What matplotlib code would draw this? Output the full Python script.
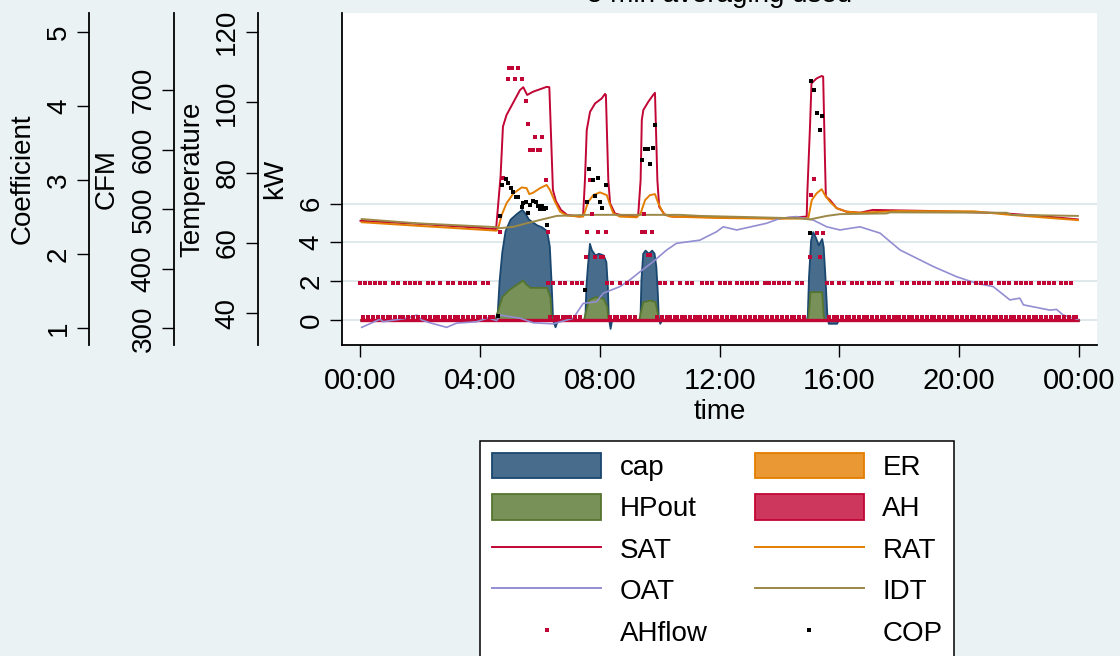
"""
Heat pump day plot: kW areas, temperatures, air handler flow and COP
on four stacked y axes (Stata s2color look).
"""

import matplotlib
matplotlib.use('Agg')
import matplotlib.pyplot as plt
from matplotlib.patches import Patch
from matplotlib.lines import Line2D

plt.rcParams['font.family'] = ['Liberation Sans', 'DejaVu Sans']

# ---- data (time in hours of the day) ----

# capacity, kW
cap_t = [0.0, 4.50, 4.57, 4.63, 4.72, 4.83, 5.00, 5.22, 5.39, 5.50, 5.61, 5.89, 6.05, 6.22,
         6.31, 6.37, 6.42, 6.50, 6.58, 7.45, 7.50, 7.53, 7.58, 7.65, 7.72, 7.84, 7.95, 8.11,
         8.20, 8.25, 8.28, 8.34, 8.39, 9.30, 9.34, 9.37, 9.43, 9.51, 9.62, 9.73, 9.81, 9.87,
         9.92, 9.95, 10.0, 10.06, 14.90, 14.93, 14.97, 15.04, 15.11, 15.19, 15.30, 15.41,
         15.46, 15.52, 15.58, 15.63, 15.91, 15.96, 24.0]
cap_v = [0.0, 0.0, 0.4, 2.0, 3.5, 4.6, 5.2, 5.5, 5.7, 5.5, 5.2, 4.9, 4.8, 4.6,
         3.8, 1.9, 0.0, -0.35, 0.0, 0.0, 0.17, 1.7, 2.75, 3.95, 3.6, 3.35, 3.44, 3.35,
         3.0, 1.7, 0.17, -0.43, 0.0, 0.0, 0.17, 2.06, 3.44, 3.6, 3.44, 3.6, 3.44, 2.75,
         1.37, 0.17, -0.17, 0.0, 0.0, 0.26, 2.23, 4.12, 4.55, 4.3, 3.87, 4.2,
         3.78, 2.23, 0.34, -0.17, -0.17, 0.0, 0.0]

# heat pump output, kW
hp_t = [0.0, 4.50, 4.55, 4.72, 4.94, 5.33, 5.42, 5.50, 5.66, 6.22, 6.33, 6.37, 6.42,
        7.45, 7.50, 7.61, 7.84, 8.11, 8.23, 8.26, 8.30, 9.30, 9.34, 9.43, 9.67, 9.84,
        9.92, 9.96, 14.92, 14.96, 15.02, 15.41, 15.46, 15.50, 24.0]
hp_v = [0.0, 0.0, 0.34, 1.2, 1.55, 1.97, 2.06, 1.89, 1.68, 1.68, 1.2, 0.17, 0.0,
        0.0, 0.34, 1.03, 1.2, 1.12, 0.69, 0.14, 0.0, 0.0, 0.34, 0.94, 1.03, 0.94,
        0.34, 0.0, 0.0, 0.26, 1.46, 1.46, 0.26, 0.0, 0.0]

# electric resistance and aux heat, kW (off all day)
er_t = [0.0, 24.0]
er_v = [0.0, 0.0]
ah_t = [0.0, 24.0]
ah_v = [0.0, 0.0]

# supply air temperature, F
sat_t = [0.0, 2.0, 4.0, 4.53, 4.68, 4.76, 4.88, 5.33, 5.44, 5.57, 5.76, 6.22, 6.31, 6.43,
         6.53, 6.70, 6.90, 7.33, 7.44, 7.50, 7.56, 7.67, 7.84, 8.06, 8.17, 8.20, 8.28,
         8.34, 8.50, 8.67, 9.23, 9.28, 9.36, 9.40, 9.45, 9.62, 9.78, 9.84, 9.92, 9.98,
         10.17, 10.45, 12.0, 14.0, 14.91, 14.93, 15.02, 15.07, 15.24, 15.41, 15.46, 15.52,
         15.55, 15.69, 15.91, 16.24, 16.69, 17.12, 19.03, 21.37, 22.70, 23.97]
sat_v = [66.3, 65.4, 64.3, 63.9, 78.9, 93.1, 96.4, 103.5, 104.3, 102.1, 103.0, 104.4, 104.3, 75.1,
         71.9, 69.4, 68.0, 67.5, 68.0, 77.9, 92.1, 97.3, 99.7, 101.1, 102.4, 102.1, 77.9,
         71.3, 68.4, 68.0, 67.5, 68.0, 77.9, 95.0, 97.8, 100.2, 102.1, 102.7, 77.9, 70.3,
         68.0, 67.5, 67.3, 67.0, 67.5, 74.1, 93.1, 105.4, 106.8, 107.5, 107.3, 83.6,
         73.2, 72.2, 69.9, 68.9, 68.6, 69.4, 69.1, 68.5, 67.7, 66.7]

# return air temperature, F
rat_t = [0.04, 1.88, 4.55, 4.60, 4.72, 4.88, 5.11, 5.39, 5.55, 5.64, 5.77, 6.0, 6.22, 6.33,
         6.50, 6.67, 6.89, 7.33, 7.44, 7.61, 7.78, 8.0, 8.23, 8.34, 8.45, 8.67, 9.23, 9.36,
         9.51, 9.67, 9.84, 9.95, 10.12, 10.34, 12.0, 14.0, 14.96, 15.08, 15.24, 15.41,
         15.52, 15.69, 15.91, 16.24, 16.69, 18.0, 20.5, 21.7, 23.97]
rat_v = [65.9, 64.9, 63.5, 64.2, 68.0, 71.3, 74.1, 75.8, 75.6, 73.9, 74.3, 75.6, 76.5, 75.1,
         71.7, 68.9, 67.8, 67.5, 67.5, 71.7, 73.6, 74.4, 73.6, 70.8, 68.4, 67.5, 67.3, 68.4,
         72.2, 73.6, 73.9, 71.3, 68.4, 67.5, 67.1, 66.9, 67.0, 72.2, 74.1, 75.3,
         73.6, 71.7, 69.9, 68.9, 68.6, 69.1, 69.0, 68.0, 66.5]

# outdoor air temperature, F
oat_t = [0.04, 0.65, 0.76, 1.54, 1.88, 2.04, 2.32, 2.88, 3.21, 3.88, 4.27, 4.55, 4.66, 5.33,
         5.77, 6.44, 7.11, 7.44, 7.89, 8.11, 8.67, 9.0, 9.34, 9.78, 10.23, 10.56, 11.34,
         11.57, 11.90, 12.12, 12.57, 13.57, 14.02, 14.57, 15.13, 15.58, 16.02, 16.69, 17.36,
         18.03, 19.14, 19.92, 20.59, 21.14, 21.70, 22.03, 22.15, 23.04, 23.26, 23.48, 23.97]
oat_v = [36.0, 38.3, 37.6, 38.6, 39.5, 38.1, 37.3, 36.0, 37.2, 37.6, 38.7, 37.9, 39.5, 38.6,
         37.3, 37.0, 38.6, 42.8, 43.3, 45.7, 47.6, 49.5, 51.8, 54.7, 58.0, 59.9, 60.8,
         61.8, 63.2, 64.6, 63.7, 65.6, 67.0, 67.5, 66.5, 64.6, 63.7, 64.6, 62.8,
         58.0, 53.3, 50.4, 48.5, 47.6, 43.8, 44.3, 42.4, 40.9, 41.1, 39.5, 38.3]

# indoor temperature, F
idt_t = [0.04, 1.88, 4.55, 4.66, 5.11, 5.55, 6.22, 6.56, 7.56, 8.89, 10.68, 11.34, 14.68,
         15.02, 15.58, 16.02, 17.58, 17.69, 21.59, 21.76, 23.97]
idt_v = [66.8, 65.6, 64.5, 64.2, 64.6, 65.6, 67.0, 67.7, 68.0, 68.0, 68.0, 67.7, 67.0,
         66.7, 67.7, 68.2, 68.4, 68.7, 68.6, 68.0, 67.7]

# air handler flow, CFM: one string per hour, one char per 5 min sample
# u = upper level, l = lower level, - = during heating (listed separately)
AHFLOW_UP = 375.6
AHFLOW_LOW = 319.0
ahflow_rows = [
    "ulululululul", "lulullululul", "ullulullullu", "lullulululul",
    "lulull------", "------------", "---ulullulul", "lululu------",
    "---ulullullu", "lulu-------l", "ulullullullu", "lulllululull",
    "ululullululu", "lulullululul", "ululullulul-", "-------ulull",
    "ulullululull", "ululullulull", "lulullululul", "ullululullul",
    "ululullululu", "lullululullu", "lululullulul", "ulullululull",
]
ahflow_heat_t = [4.67, 4.75, 4.92, 4.95, 5.05, 5.16, 5.27, 5.39, 5.53, 5.59, 5.66, 5.77,
                 5.83, 5.94, 6.00, 6.07, 6.19, 6.27,
                 7.52, 7.56, 7.67, 7.75, 7.84, 7.94, 8.04, 8.10, 8.20,
                 9.40, 9.47, 9.51, 9.60, 9.68, 9.73,
                 15.02, 15.07, 15.15, 15.24, 15.35, 15.44]
ahflow_heat_v = [461, 552, 719, 737, 737, 719, 737, 719, 682, 643, 600, 600,
                 622, 600, 600, 622, 550, 461,
                 420, 461, 550, 492, 420, 461, 420, 420, 461,
                 461, 492, 461, 423, 423, 461,
                 420, 524, 551, 460, 420, 460]

# coefficient of performance
cop_t = [4.60, 4.66, 4.74, 4.85, 4.94, 5.02, 5.11, 5.19, 5.27, 5.39, 5.44, 5.53, 5.61,
         5.66, 5.77, 5.85, 5.94, 6.00, 6.05, 6.13, 6.19, 6.24,
         7.50, 7.58, 7.64, 7.76, 7.84, 7.92, 8.00, 8.08, 8.19,
         9.42, 9.51, 9.60, 9.68, 9.76, 9.84,
         15.02, 15.07, 15.15, 15.26, 15.34, 15.43]
cop_v = [1.16, 2.52, 2.93, 3.01, 2.96, 2.90, 2.84, 2.77, 2.77, 2.64, 2.69, 2.70, 2.55,
         2.66, 2.72, 2.70, 2.65, 2.61, 2.65, 2.61, 2.63, 2.39,
         1.52, 2.71, 3.15, 3.00, 2.79, 3.03, 2.71, 2.62, 2.93,
         3.27, 3.42, 3.42, 3.22, 3.44, 3.74,
         2.29, 4.34, 4.21, 3.91, 3.67, 3.87]

time_ticks = [0, 4, 8, 12, 16, 20, 24]
time_labels = ['00:00', '04:00', '08:00', '12:00', '16:00', '20:00', '00:00']

# ---- colours (Stata s2color) ----
BG = '#eaf2f3'
GRID = '#dfe9ec'
NAVY, CAP_FILL = '#1a476f', '#486c8c'
GREEN, HP_FILL = '#55752f', '#779159'
ORANGE, ER_FILL = '#e37e00', '#e99833'
CRAN, AH_FILL = '#c10534', '#cd375d'
LAVENDER = '#938dd2'
BROWN = '#9c8847'

FS = 20
W, H = 1120, 656
L, R, T, B = 342, 1097, 13, 345   # plot region in pixels


def style_y(ax, ticks):
    ax.set_yticks(ticks, [str(t) for t in ticks], rotation=90, va='center')
    ax.tick_params(axis='y', direction='out', length=8.5, width=1.0, pad=4, labelsize=FS)


def add_side_axis(host, pos, ylim, ticks, label, label_x):
    """Extra y axis drawn further to the left of the plot"""
    a = host.twinx()
    a.set_ylim(ylim)
    a.patch.set_visible(False)
    for s in ('top', 'bottom', 'right'):
        a.spines[s].set_visible(False)
    a.spines['left'].set_visible(True)
    a.spines['left'].set_position(('axes', pos))
    a.spines['left'].set_linewidth(1.3)
    a.yaxis.set_ticks_position('left')
    a.yaxis.set_label_position('left')
    style_y(a, ticks)
    a.set_ylabel(label, fontsize=FS, va='center')
    a.yaxis.set_label_coords(label_x, 0.5)
    return a


fig = plt.figure(figsize=(W / 100, H / 100), dpi=100, facecolor=BG)
ax = fig.add_axes([L / W, 1 - B / H, (R - L) / W, (B - T) / H])
ax.set_facecolor('white')
width_px = R - L

# kW axis (host)
ax.set_xlim(-0.618, 24.61)
ax.set_ylim(-1.289, 15.82)
style_y(ax, [0, 2, 4, 6])
ax.grid(axis='y', color=GRID, linewidth=1.4)
ax.set_axisbelow(True)
ax.set_ylabel('kW', fontsize=FS, va='center')
ax.yaxis.set_label_coords((275 - L) / width_px, 0.5)
ax.set_xticks(time_ticks, time_labels)
ax.tick_params(axis='x', direction='out', length=8.5, width=1.0, pad=7.5, labelsize=21)
ax.set_xlabel('time', fontsize=FS, labelpad=3)
for s in ('top', 'right'):
    ax.spines[s].set_visible(False)
for s in ('left', 'bottom'):
    ax.spines[s].set_linewidth(1.3)

ax.fill_between(cap_t, cap_v, 0, facecolor=CAP_FILL, edgecolor=NAVY, linewidth=1.3)
ax.fill_between(er_t, er_v, 0, facecolor=ER_FILL, edgecolor=ORANGE, linewidth=1.3)
ax.fill_between(hp_t, hp_v, 0, facecolor=HP_FILL, edgecolor=GREEN, linewidth=1.3)
ax.fill_between(ah_t, ah_v, 0, facecolor=AH_FILL, edgecolor=CRAN, linewidth=2.4)

# temperature axis
ax_t = add_side_axis(ax, (257.7 - L) / width_px, (30.98, 125.41), [40, 60, 80, 100, 120],
                     'Temperature', (192.5 - L) / width_px)
ax_t.plot(sat_t, sat_v, color=CRAN, linewidth=1.4)
ax_t.plot(rat_t, rat_v, color=ORANGE, linewidth=1.4)
ax_t.plot(oat_t, oat_v, color=LAVENDER, linewidth=1.2)
ax_t.plot(idt_t, idt_v, color=BROWN, linewidth=1.4)

# CFM axis
ax_c = add_side_axis(ax, (174 - L) / width_px, (271.9, 829.9), [300, 400, 500, 600, 700],
                     'CFM', (106.7 - L) / width_px)
flow_t, flow_v = [], []
for h, row in enumerate(ahflow_rows):
    for i, c in enumerate(row):
        if c == 'u':
            flow_t.append(h + i / 12)
            flow_v.append(AHFLOW_UP)
        elif c == 'l':
            flow_t.append(h + i / 12)
            flow_v.append(AHFLOW_LOW)
flow_t += ahflow_heat_t
flow_v += ahflow_heat_v
ax_c.plot(flow_t, flow_v, linestyle='none', marker='s', markersize=3.3,
          markeredgewidth=0, color=CRAN)

# coefficient axis
ax_k = add_side_axis(ax, (89.3 - L) / width_px, (0.775, 5.255), [1, 2, 3, 4, 5],
                     'Coefficient', (22.5 - L) / width_px)
ax_k.plot(cop_t, cop_v, linestyle='none', marker='s', markersize=3.2,
          markeredgewidth=0, color='black')

fig.text((L + R) / 2 / W, 1 - 2.5 / H, '5 min averaging used', ha='center',
         va='baseline', fontsize=FS)

# legend, column-major order
handles = [
    Patch(facecolor=CAP_FILL, edgecolor=NAVY, linewidth=1.3),
    Patch(facecolor=HP_FILL, edgecolor=GREEN, linewidth=1.3),
    Line2D([], [], color=CRAN, linewidth=1.4),
    Line2D([], [], color=LAVENDER, linewidth=1.4),
    Line2D([], [], linestyle='none', marker='s', markersize=2.5, markeredgewidth=0, color=CRAN),
    Patch(facecolor=ER_FILL, edgecolor=ORANGE, linewidth=1.3),
    Patch(facecolor=AH_FILL, edgecolor=CRAN, linewidth=1.3),
    Line2D([], [], color=ORANGE, linewidth=1.4),
    Line2D([], [], color=BROWN, linewidth=1.4),
    Line2D([], [], linestyle='none', marker='s', markersize=2.5, markeredgewidth=0, color='black'),
]
labels = ['cap', 'HPout', 'SAT', 'OAT', 'AHflow', 'ER', 'AH', 'RAT', 'IDT', 'COP']
leg = fig.legend(handles, labels, ncol=2, loc='upper left',
                 bbox_to_anchor=(480 / W, 1 - 441 / H), bbox_transform=fig.transFigure,
                 fontsize=FS, frameon=True, fancybox=False, framealpha=1,
                 edgecolor='black', borderaxespad=0, borderpad=0.42,
                 handlelength=3.95, handleheight=1.05, handletextpad=0.65,
                 columnspacing=1.7, labelspacing=0.47)
leg.get_frame().set_linewidth(1.1)

fig.savefig('out.png', dpi=100, facecolor=BG)
